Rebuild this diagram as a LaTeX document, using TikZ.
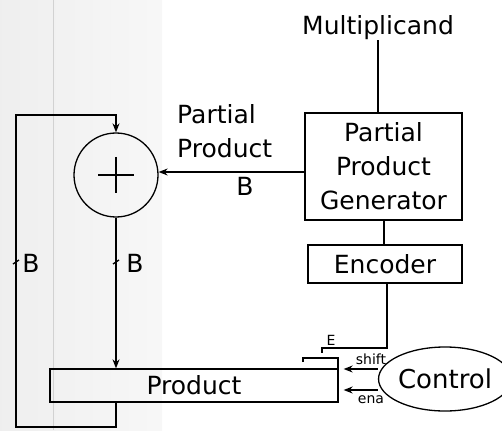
\documentclass[tikz,border=0pt]{standalone}
\usepackage{fontspec}
\setmainfont{DejaVu Sans}
\usetikzlibrary{arrows.meta,shapes.geometric,calc}
\begin{document}
\begin{tikzpicture}[x=1pt,y=-1pt,
  lbl/.style={font=\fontsize{25}{34}\selectfont, inner sep=0pt},
  small/.style={font=\fontsize{14}{16}\selectfont, inner sep=1pt},
  blk/.style={draw, line width=1.3pt, font=\fontsize{25}{34}\selectfont, align=center, inner sep=0pt},
  wire/.style={line width=1.3pt},
  arr/.style={wire, -{Stealth[length=9pt,width=7pt]}}]
\useasboundingbox (0,0) rectangle (502,430);
% scanned page background at the left
\fill[left color=gray!13, right color=gray!6] (0,0) rectangle (162,430);
\draw[gray!35, line width=1pt] (53,0) -- (53,430);
% blocks
\node[lbl] (mult) at (378,28) {Multiplicand};
\node[blk, minimum width=157pt, minimum height=107pt] (ppg) at (383.5,166.5) {Partial\\Product\\Generator};
\node[blk, minimum width=154pt, minimum height=38pt] (enc) at (385,264) {Encoder};
\node[draw, circle, line width=1.3pt, minimum size=84pt, inner sep=0pt] (add) at (116,175) {};
\draw[line width=1.7pt] ($(add)+(-18,0)$) -- ($(add)+(18,0)$) ($(add)+(0,-18)$) -- ($(add)+(0,18)$);
\node[blk, minimum width=288pt, minimum height=33pt] (prod) at (194,385.5) {Product};
\node[draw, ellipse, line width=1.3pt, minimum width=110pt, minimum height=64pt, inner sep=0pt, font=\fontsize{26}{30}\selectfont] (ctrl) at (445,379) {Control};
% labels
\node[lbl, align=left, anchor=north west] (pplbl) at (177,104) {Partial\\Product};
\node[lbl] (b1) at (245,186) {B};
\node[lbl] (b2) at (31,263) {B};
\node[lbl] (b3) at (135,263) {B};
% connectors
\draw[wire] (mult.south) -- (mult.south |- ppg.north);
\coordinate (pp) at (ppg.west |- 0,172);
\draw[arr] (pp) -- (pp -| add.east);
\coordinate (pe) at (384,0);
\draw[wire] (pe |- ppg.south) -- (pe |- enc.north);
\coordinate (e1) at (387,348);
\coordinate (e2) at (322,348);
\coordinate (e3) at (322,353);
\draw[wire] (enc.south -| e1) -- (e1) -- (e2) -- (e3);
\node[small] (elbl) at (331,340) {E};
\coordinate (p1) at (303,362);
\coordinate (p2) at (303,358);
\coordinate (p3) at (338,358);
\draw[wire] (p1) -- (p2) -- (p3) -- (p3 |- prod.north);
\draw[arr] (add.south) -- (add.south |- prod.north);
% feedback loop
\coordinate (lb) at (16,427);
\coordinate (lt) at (16,115);
\draw[arr] (add |- prod.south) -- (add |- lb) -- (lb) -- (lt) -- (lt -| add) -- (add.north);
% bus ticks
\draw[wire] (13,264) -- (19,260);
\draw[wire] (113,264) -- (119,260);
% control signals
\coordinate (s1) at ([yshift=10pt]ctrl.west);
\coordinate (s2) at ([yshift=-11pt]ctrl.west);
\draw[arr, shorten >=5pt] (s1) -- (s1 -| prod.east);
\draw[arr, shorten >=5pt] (s2) -- (s2 -| prod.east);
\node[small] (shl) at (371,359) {shift};
\node[small] (enl) at (371,400) {ena};
\end{tikzpicture}
\end{document}
